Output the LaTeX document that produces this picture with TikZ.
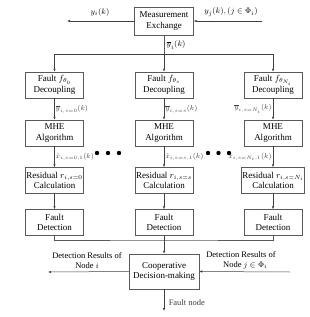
\documentclass[tikz,border=0pt]{standalone}
\usepackage{fontspec}
\setmainfont{Liberation Serif}
\usetikzlibrary{arrows.meta}
\tikzset{
    block/.style={draw=black!65, line width=0.5pt, fill=white, minimum width=58pt, minimum height=26pt, inner sep=1pt, align=center, font=\fontsize{9}{10.5}\selectfont},
    arr/.style={-{Latex[length=3pt,width=2.4pt]}, black!75, line width=0.5pt},
    line/.style={black!65, line width=0.5pt},
    lbl/.style={font=\fontsize{8.5}{10}\selectfont, inner sep=1.5pt},
    elbl/.style={font=\fontsize{7.5}{9}\selectfont, inner sep=1pt}
}
\begin{document}
\begin{tikzpicture}[x=1pt, y=-1pt]
    \useasboundingbox (0,0) rectangle (310,317);

    % top exchange block
    \node[block, minimum width=59pt, minimum height=28pt] (meas) at (164,21) {Measurement\\Exchange};
    \coordinate (yout) at (67,21);
    \coordinate (yin) at (262,21);
    \coordinate (split) at (164,54);
    \draw[arr] (meas.west) -- (yout);
    \draw[arr] (yin) -- (meas.east);
    \node[lbl] (lyi) at (100,12) {$y_i(k)$};
    \node[lbl] (lyj) at (231,12) {$y_j(k),(j\in\Phi_i)$};
    \node[lbl] (lybar) at (176,45) {$\overline{y}_i(k)$};

    % three columns
    \node[block] (faultA) at (54.5,85) {Fault $f_{\theta_0}$\\Decoupling};
    \node[block] (faultB) at (164,85) {Fault $f_{\theta_s}$\\Decoupling};
    \node[block] (faultC) at (273,85) {Fault $f_{\theta_{N_i}}$\\[1pt]Decoupling};

    \node[block] (mheA) at (54.5,133) {MHE\\Algorithm};
    \node[block] (mheB) at (164,133) {MHE\\Algorithm};
    \node[block] (mheC) at (273,133) {MHE\\Algorithm};

    \node[block] (resA) at (54.5,180.5) {Residual $r_{i,s=0}$\\Calculation};
    \node[block] (resB) at (164,180.5) {Residual $r_{i,s=s}$\\Calculation};
    \node[block] (resC) at (273,180.5) {Residual $r_{i,s=N_i}$\\Calculation};

    \node[block] (detA) at (54.5,222.5) {Fault\\Detection};
    \node[block] (detB) at (164,222.5) {Fault\\Detection};
    \node[block] (detC) at (273,222.5) {Fault\\Detection};

    % distribution of measurements
    \draw[line] (meas.south) -- (split);
    \draw[arr] (split) -| (faultA.north);
    \draw[arr] (split) -| (faultC.north);
    \draw[arr] (split) -- (faultB.north);

    % arrows inside the columns
    \draw[arr] (faultA) -- node[elbl, right] {$\overline{y}_{i,s=0}(k)$} (mheA);
    \draw[arr] (faultB) -- node[elbl, right] {$\overline{y}_{i,s=s}(k)$} (mheB);
    \draw[arr] (faultC) -- node[elbl, left] {$\overline{y}_{i,s=N_i}(k)$} (mheC);
    \draw[arr] (mheA) -- node[elbl, right] {$\hat{x}_{i,s=0,1}(k)$} (resA);
    \draw[arr] (mheB) -- node[elbl, right] {$\hat{x}_{i,s=s,1}(k)$} (resB);
    \draw[arr] (mheC) -- node[elbl, left] {$\hat{x}_{i,s=N_i,1}(k)$} (resC);
    \draw[arr] (resA) -- (detA);
    \draw[arr] (resB) -- (detB);
    \draw[arr] (resC) -- (detC);

    % dots between columns
    \foreach \x in {97,108,119,208,218.5,229}
        \fill (\x,153) circle (2.2pt);

    % cooperative decision
    \node[block, minimum width=70pt, minimum height=35pt] (coop) at (164,271.5) {Cooperative\\Decision-making};
    \coordinate (join) at (164,240);
    \draw[line] (detA.south) |- (join) -| (detC.south);
    \draw[arr] (detB.south) -- (coop.north);

    \coordinate (outL) at (48,272);
    \coordinate (inR) at (290,272);
    \coordinate (fnode) at (164,311);
    \draw[arr] (coop.west) -- (outL);
    \draw[arr] (inR) -- (coop.east);
    \draw[arr] (coop.south) -- node[lbl, right, pos=0.6, xshift=3pt] {Fault node} (fnode);
    \node[lbl, align=center] (resL) at (87,260.5) {Detection Results of\\Node $i$};
    \node[lbl, align=center] (resR) at (241,260.5) {Detection Results of\\\quad Node $j\in\Phi_i$};
\end{tikzpicture}
\end{document}
